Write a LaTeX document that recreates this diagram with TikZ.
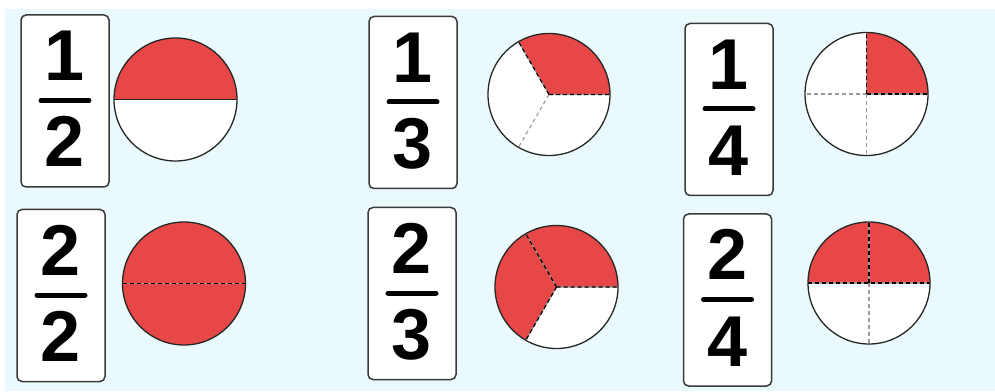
\documentclass[tikz,border=0pt]{standalone}
\usepackage{fontspec}
\setmainfont{Liberation Sans}
\usetikzlibrary{calc}
\definecolor{bgcyan}{HTML}{EAF9FB}
\definecolor{piered}{HTML}{E84747}
\definecolor{cardline}{HTML}{3A3A3A}
\definecolor{dashgray}{HTML}{9A9A9A}
\tikzset{
  card/.style={draw=cardline, line width=1.5pt, fill=white, rounded corners=5pt,
    minimum width=88pt, minimum height=172pt, inner sep=0pt},
  digit/.style={font=\fontsize{72}{72}\selectfont\bfseries, inner sep=0pt, anchor=base},
  fracbar/.style={line width=5pt, line cap=round, black},
  outline/.style={draw=black!85, line width=1.3pt},
  redpart/.style={fill=piered},
  graydash/.style={draw=dashgray, line width=1.1pt, dash pattern=on 4pt off 3pt},
  blackdash/.style={draw=black, line width=1.2pt, dash pattern=on 4pt off 3pt},
  graysolid/.style={draw=dashgray, line width=1.1pt},
}
\newcommand{\fraccard}[5]{% name, x, y, num, den
  \node[card] (#1) at (#2,#3) {};
  \node[digit] (#1n) at ($(#1.center)+(0,20)$) {#4};
  \node[digit] (#1d) at ($(#1.center)+(0,-66)$) {#5};
  \draw[fracbar] ($(#1.center)+(-24,0.5)$) -- ($(#1.center)+(24,0.5)$);
}
\begin{document}
\begin{tikzpicture}[x=1pt,y=1pt]
\useasboundingbox (0,0) rectangle (995,391);
\fill[bgcyan] (5,0) rectangle (995,382);

% ---------- cards ----------
\fraccard{ca}{65}{290}{1}{2}
\fraccard{cb}{413}{288.5}{1}{3}
\fraccard{cc}{729}{281.5}{1}{4}
\fraccard{cd}{61}{95.5}{2}{2}
\fraccard{ce}{412}{97.5}{2}{3}
\fraccard{cf}{727.5}{91}{2}{4}

% ---------- pie 1/2 ----------
\coordinate (pa) at (175.5,291.5);
\fill[white] (pa) circle[radius=61.5];
\fill[redpart] (pa) ++(0:61.5) arc[start angle=0,end angle=180,radius=61.5] -- cycle;
\draw[black!85, line width=1.3pt] ($(pa)+(180:61.5)$) -- ($(pa)+(0:61.5)$);
\draw[outline] (pa) circle[radius=61.5];

% ---------- pie 1/3 ----------
\coordinate (pb) at (549,296.5);
\fill[white] (pb) circle[radius=61];
\fill[redpart] (pb) -- ++(0:61) arc[start angle=0,end angle=120,radius=61] -- cycle;
\draw[graydash] (pb) -- ++(240:61);
\draw[graysolid] (pb) -- ++(0:61) (pb) -- ++(120:61);
\draw[blackdash] (pb) -- ++(0:61) (pb) -- ++(120:61);
\draw[outline] (pb) circle[radius=61];

% ---------- pie 1/4 ----------
\coordinate (pc) at (866.5,297);
\fill[white] (pc) circle[radius=61.5];
\fill[redpart] (pc) -- ++(0:61.5) arc[start angle=0,end angle=90,radius=61.5] -- cycle;
\draw[graydash] (pc) -- ++(180:61.5) (pc) -- ++(270:61.5);
\draw[graysolid] (pc) -- ++(0:61.5) (pc) -- ++(90:61.5);
\draw[blackdash] (pc) -- ++(0:61.5) (pc) -- ++(90:61.5);
\draw[outline] (pc) circle[radius=61.5];

% ---------- pie 2/2 ----------
\coordinate (pd) at (184,107.5);
\fill[redpart] (pd) circle[radius=61.5];
\draw[graysolid] ($(pd)+(180:61.5)$) -- ($(pd)+(0:61.5)$);
\draw[blackdash] ($(pd)+(180:61.5)$) -- ($(pd)+(0:61.5)$);
\draw[outline] (pd) circle[radius=61.5];

% ---------- pie 2/3 ----------
\coordinate (pe) at (556.5,104);
\fill[white] (pe) circle[radius=61.5];
\fill[redpart] (pe) -- ++(0:61.5) arc[start angle=0,end angle=240,radius=61.5] -- cycle;
\draw[graysolid] (pe) -- ++(0:61.5) (pe) -- ++(120:61.5) (pe) -- ++(240:61.5);
\draw[blackdash] (pe) -- ++(0:61.5) (pe) -- ++(120:61.5) (pe) -- ++(240:61.5);
\draw[outline] (pe) circle[radius=61.5];

% ---------- pie 2/4 ----------
\coordinate (pf) at (869,108);
\fill[white] (pf) circle[radius=61];
\fill[redpart] (pf) ++(0:61) arc[start angle=0,end angle=180,radius=61] -- cycle;
\draw[graydash] (pf) -- ++(270:61);
\draw[graysolid] ($(pf)+(180:61)$) -- ($(pf)+(0:61)$) (pf) -- ++(90:61);
\draw[blackdash] ($(pf)+(180:61)$) -- ($(pf)+(0:61)$) (pf) -- ++(90:61);
\draw[outline] (pf) circle[radius=61];
\end{tikzpicture}
\end{document}
